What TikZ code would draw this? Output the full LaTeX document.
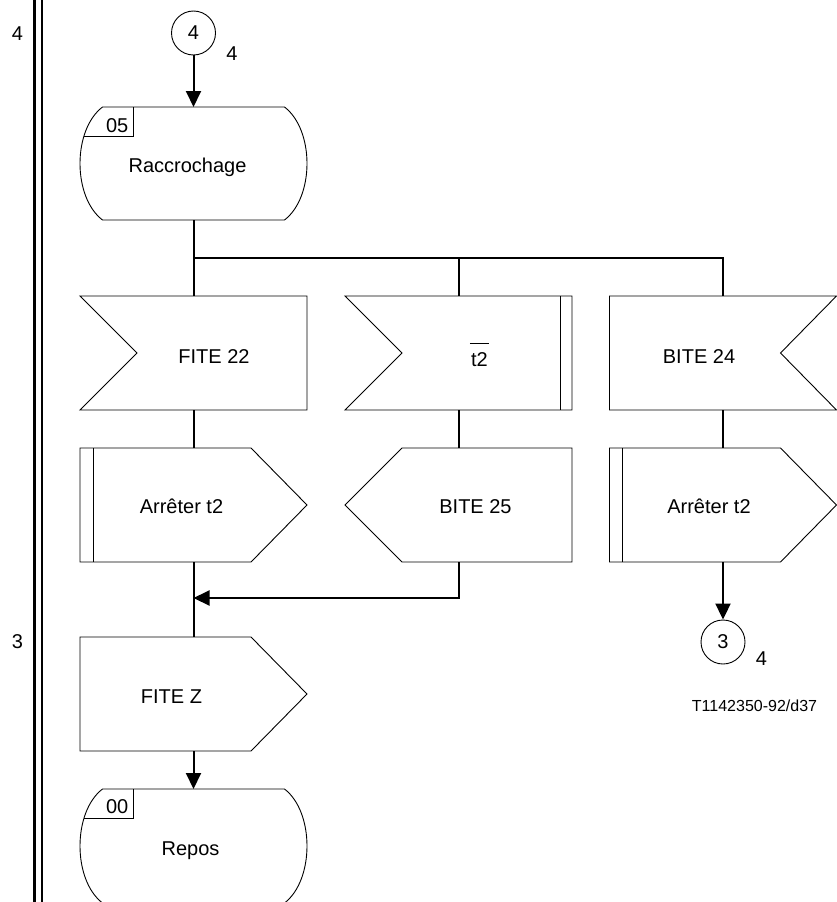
\documentclass[tikz,border=0pt]{standalone}
\usepackage{fontspec}
\setmainfont{Liberation Sans}
\usetikzlibrary{calc,arrows.meta}
\begin{document}
\begin{tikzpicture}[x=1pt,y=-1pt,
  box/.style={inner sep=0pt, outer sep=0pt, minimum width=227pt, minimum height=114pt},
  outl/.style={line width=0.9pt, line join=miter},
  conn/.style={line width=2pt},
  arr/.style={conn, -{Triangle[length=16pt,width=15pt]}},
  lbl/.style={inner sep=0pt, anchor=base, font=\fontsize{20}{24}\selectfont},
  conncirc/.style={circle, draw, line width=0.9pt, minimum size=44pt, inner sep=0pt, font=\fontsize{20}{24}\selectfont}
]
\clip (0,0) rectangle (837,902);
\fill[white] (0,0) rectangle (837,902);

% page bars
\draw[line width=2.5pt] (34.5,0) -- (34.5,902);
\draw[line width=2.5pt] (42,0) -- (42,902);

% nodes
\node[conncirc] (c4) at (193.5,33) {4};
\node[box, minimum width=228pt, minimum height=113pt] (s05) at (193.5,163.5) {};
\node[box] (fite22) at (193.5,353) {};
\node[box] (t2in) at (458.5,353) {};
\node[box] (bite24) at (723,353) {};
\node[box] (arr1) at (193.5,505) {};
\node[box] (bite25) at (458.5,505) {};
\node[box] (arr2) at (723,505) {};
\node[box] (fitez) at (193.5,694) {};
\node[box, minimum width=228pt, minimum height=114pt] (s00) at (193.5,846) {};
\node[conncirc] (c3) at (723,642) {3};

% state shapes
\draw[outl] ($(s05.north west)+(23,0)$) -- ($(s05.north east)+(-23,0)$)
  .. controls ($(s05.north east)+(7,23)$) and ($(s05.south east)+(7,-23)$) .. ($(s05.south east)+(-23,0)$)
  -- ($(s05.south west)+(23,0)$)
  .. controls ($(s05.south west)+(-7,-23)$) and ($(s05.north west)+(-7,23)$) .. ($(s05.north west)+(23,0)$) -- cycle;
\draw[outl] ($(s05.north west)+(4.5,29)$) -- ($(s05.north west)+(54,29)$) -- ($(s05.north west)+(54,0)$);

\draw[outl] ($(s00.north west)+(23,0)$) -- ($(s00.north east)+(-23,0)$)
  .. controls ($(s00.north east)+(7,23)$) and ($(s00.south east)+(7,-23)$) .. ($(s00.south east)+(-23,0)$)
  -- ($(s00.south west)+(23,0)$)
  .. controls ($(s00.south west)+(-7,-23)$) and ($(s00.north west)+(-7,23)$) .. ($(s00.north west)+(23,0)$) -- cycle;
\draw[outl] ($(s00.north west)+(4.5,29)$) -- ($(s00.north west)+(54,29)$) -- ($(s00.north west)+(54,0)$);

% inputs
\draw[outl] (fite22.north west) -- (fite22.north east) -- (fite22.south east) -- (fite22.south west) -- ($(fite22.west)+(57,0)$) -- cycle;
\draw[outl] (t2in.north west) -- (t2in.north east) -- (t2in.south east) -- (t2in.south west) -- ($(t2in.west)+(57,0)$) -- cycle;
\draw[outl] ($(t2in.north east)+(-12,0)$) -- ($(t2in.south east)+(-12,0)$);
\draw[outl] (bite24.north west) -- (bite24.north east) -- ($(bite24.east)+(-56,0)$) -- (bite24.south east) -- (bite24.south west) -- cycle;

% tasks / outputs
\draw[outl] (arr1.north west) -- ($(arr1.north east)+(-56,0)$) -- (arr1.east) -- ($(arr1.south east)+(-56,0)$) -- (arr1.south west) -- cycle;
\draw[outl] ($(arr1.north west)+(13,0)$) -- ($(arr1.south west)+(13,0)$);
\draw[outl] (arr2.north west) -- ($(arr2.north east)+(-56,0)$) -- (arr2.east) -- ($(arr2.south east)+(-56,0)$) -- (arr2.south west) -- cycle;
\draw[outl] ($(arr2.north west)+(13,0)$) -- ($(arr2.south west)+(13,0)$);
\draw[outl] (bite25.west) -- ($(bite25.north west)+(57,0)$) -- (bite25.north east) -- (bite25.south east) -- ($(bite25.south west)+(57,0)$) -- cycle;
\draw[outl] (fitez.north west) -- ($(fitez.north east)+(-56,0)$) -- (fitez.east) -- ($(fitez.south east)+(-56,0)$) -- (fitez.south west) -- cycle;

% labels
\node[lbl, anchor=base east] (l05) at (128.5,132) {05};
\node[lbl] (lracc) at (187.5,172) {Raccrochage};
\node[lbl] (lf22) at (214,363) {FITE 22};
\node[lbl] (lt2) at (479.5,366) {t2};
\draw[line width=0.9pt] ($(lt2.north west)+(-1,-8)$) -- ($(lt2.north east)+(1,-8)$);
\node[lbl] (lb24) at (699,363) {BITE 24};
\node[lbl] (la1) at (181.5,513) {Arrêter t2};
\node[lbl] (lb25) at (475.5,513) {BITE 25};
\node[lbl] (la2) at (709,513) {Arrêter t2};
\node[lbl] (lfz) at (171.5,703) {FITE Z};
\node[lbl, anchor=base east] (l00) at (128.5,813) {00};
\node[lbl] (lrep) at (190.5,855) {Repos};
\node[lbl, font=\fontsize{16}{19}\selectfont] (lref) at (754.5,711) {T1142350-92/d37};
\node[lbl] (lp4) at (17.5,40) {4};
\node[lbl] (lp3) at (17.5,648) {3};
\node[lbl] (lc4) at (232,60) {4};
\node[lbl] (lc3) at (761.5,665) {4};

% connectors
\coordinate (bus) at (193.5,258);
\coordinate (merge) at (193.5,598);
\draw[arr] (c4.south) -- (s05.north);
\draw[conn] (s05.south) -- (fite22.north);
\draw[conn] (bus) -| (t2in.north);
\draw[conn] (bus) -| (bite24.north);
\draw[conn] (fite22.south) -- (arr1.north);
\draw[conn] (t2in.south) -- (bite25.north);
\draw[conn] (bite24.south) -- (arr2.north);
\draw[conn] (arr1.south) -- (fitez.north);
\draw[arr] (bite25.south) |- (merge);
\draw[arr] (arr2.south) -- (c3.north);
\draw[arr] (fitez.south) -- (s00.north);
\end{tikzpicture}
\end{document}
